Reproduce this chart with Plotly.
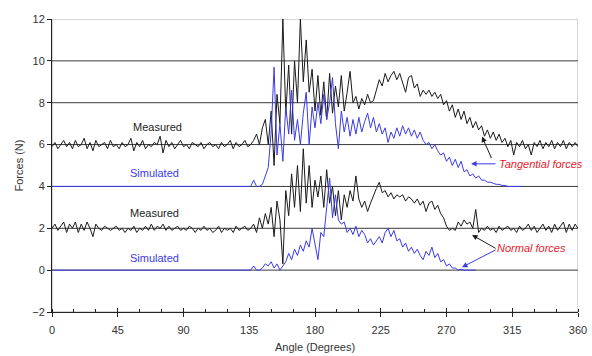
import plotly.graph_objects as go

# Angles in degrees (2-degree sampling)
angles = list(range(0, 361, 2))

measured_tangential = [
    5.9, 6.1, 5.8, 6.0, 6.2, 5.9, 6.1, 5.8, 6.2, 5.9,
    6.0, 6.3, 5.8, 6.1, 5.7, 6.2, 5.9, 6.0, 6.1, 5.8,
    6.2, 5.9, 6.0, 5.8, 6.1, 5.9, 6.0, 6.3, 5.7, 6.1,
    5.9, 6.2, 5.8, 6.0, 5.9, 6.1, 6.0, 6.4, 5.6, 6.2,
    5.9, 6.1, 5.8, 6.0, 6.2, 5.9, 6.0, 5.8, 6.1, 6.0,
    5.9, 6.1, 5.8, 6.0, 6.1, 5.9, 6.0, 5.8, 6.1, 5.9,
    6.0, 6.2, 5.8, 6.1, 5.9, 6.0, 6.2, 5.9, 6.0, 6.2,
    6.5, 6.0, 6.8, 7.2, 6.0, 7.6, 5.0, 8.4, 7.0, 12.0,
    7.5, 9.8, 6.5, 10.0, 8.0, 12.0, 9.0, 11.0, 8.5, 9.6,
    7.6, 9.3, 7.4, 9.0, 7.2, 9.4, 7.5, 8.8, 7.8, 9.3,
    7.6, 8.5, 9.5, 8.0, 8.3, 7.7, 8.2, 7.9, 8.4, 8.0,
    8.1, 8.6, 9.1, 8.8, 9.4, 9.0, 9.3, 9.5, 9.1, 9.4,
    8.9, 8.5, 9.2, 9.3, 8.7, 8.9, 8.3, 8.6, 8.4, 8.6,
    8.3, 8.5, 8.2, 8.4, 7.9, 8.1, 7.6, 7.9, 7.3, 7.7,
    7.2, 7.6, 7.0, 7.3, 6.8, 7.1, 6.7, 6.9, 6.4, 6.7,
    6.3, 6.6, 6.2, 6.5, 6.1, 6.3, 5.9, 6.2, 5.5, 6.1,
    5.9, 6.2, 5.8, 6.0, 5.5, 6.1, 5.9, 6.2, 5.8, 6.1,
    5.9, 6.2, 5.8, 6.1, 5.9, 6.2, 5.8, 6.1, 5.9, 6.1,
    5.9,
]

simulated_tangential = [
    4.0, 4.0, 4.0, 4.0, 4.0, 4.0, 4.0, 4.0, 4.0, 4.0,
    4.0, 4.0, 4.0, 4.0, 4.0, 4.0, 4.0, 4.0, 4.0, 4.0,
    4.0, 4.0, 4.0, 4.0, 4.0, 4.0, 4.0, 4.0, 4.0, 4.0,
    4.0, 4.0, 4.0, 4.0, 4.0, 4.0, 4.0, 4.0, 4.0, 4.0,
    4.0, 4.0, 4.0, 4.0, 4.0, 4.0, 4.0, 4.0, 4.0, 4.0,
    4.0, 4.0, 4.0, 4.0, 4.0, 4.0, 4.0, 4.0, 4.0, 4.0,
    4.0, 4.0, 4.0, 4.0, 4.0, 4.0, 4.0, 4.0, 4.0, 4.3,
    4.0, 4.0, 4.1, 4.5, 4.9, 6.6, 9.7, 5.5, 7.0, 5.2,
    7.8, 6.5, 8.6, 6.2, 7.2, 6.0, 7.5, 8.5, 6.0, 7.8,
    6.8, 8.0, 7.0, 8.4, 7.2, 8.0, 9.2, 7.0, 5.8, 7.6,
    6.6, 7.3, 6.4, 7.2, 6.5, 7.3, 6.6, 7.1, 7.5, 6.8,
    7.3, 6.6, 7.0, 6.5, 6.8, 6.1, 6.6, 6.3, 6.8, 6.4,
    6.9, 6.5, 6.8, 6.4, 6.7, 6.3, 6.6, 6.2, 6.0, 6.1,
    5.8, 6.0, 5.7, 5.5, 5.6, 5.2, 5.4, 5.0, 5.3, 4.9,
    5.2, 4.7, 4.8, 4.5, 4.6, 4.4, 4.5, 4.3, 4.3, 4.2,
    4.2, 4.15, 4.1, 4.1, 4.05, 4.05, 4.0, 4.0, 4.0, 4.0,
    4.0, 4.0, None, None, None, None, None, None, None, None,
    None, None, None, None, None, None, None, None, None, None,
    None,
]

measured_normal = [
    2.0, 2.2, 1.9, 2.1, 2.3, 1.8, 2.2, 2.0, 2.3, 1.8,
    2.2, 1.9, 2.3, 2.0, 1.6, 2.2, 2.0, 1.9, 2.1, 2.0,
    1.9, 2.0, 2.1, 1.9, 2.0, 1.8, 2.0, 1.9, 2.1, 1.8,
    2.0, 1.9, 2.1, 1.9, 2.2, 1.9, 2.1, 2.0, 2.2, 1.9,
    2.1, 1.9, 2.0, 2.1, 1.9, 2.0, 1.9, 2.1, 2.0, 1.8,
    2.0, 1.9, 2.1, 1.9, 2.0, 1.8, 1.9, 2.1, 1.8, 2.0,
    1.9, 2.0, 1.8, 2.1, 1.9, 2.0, 2.1, 1.9, 2.0, 2.2,
    1.8, 2.5, 2.0, 2.7, 2.2, 3.0, 1.6, 3.3, 2.4, 0.3,
    3.8, 2.6, 4.6, 3.0, 5.0, 2.8, 5.8, 3.2, 5.0, 3.0,
    4.3, 3.5, 4.5, 3.0, 4.8, 3.2, 4.0, 2.6, 3.8, 2.4,
    3.6, 3.0, 3.8, 3.3, 4.5, 3.4, 3.0, 3.3, 2.8, 3.2,
    3.6, 3.9, 4.2, 3.7, 3.8, 3.5, 3.7, 3.4, 3.6, 3.5,
    3.6, 3.3, 3.5, 3.4, 3.2, 3.4, 3.1, 3.3, 2.8, 3.2,
    3.3, 2.9, 3.1, 2.7, 2.5, 2.1, 1.9, 2.0, 1.9, 2.3,
    2.1, 2.4, 2.2, 2.3, 2.0, 2.9, 1.8, 2.0, 1.9, 2.1,
    1.9, 2.0, 1.8, 2.1, 1.9, 2.0, 2.1, 1.9, 2.0, 1.8,
    2.1, 1.9, 2.0, 2.2, 1.9, 2.1, 1.8, 2.0, 2.2, 1.9,
    2.1, 1.8, 2.2, 1.9, 2.1, 2.3, 1.8, 2.2, 1.9, 2.2,
    2.0,
]

simulated_normal = [
    0.0, 0.0, 0.0, 0.0, 0.0, 0.0, 0.0, 0.0, 0.0, 0.0,
    0.0, 0.0, 0.0, 0.0, 0.0, 0.0, 0.0, 0.0, 0.0, 0.0,
    0.0, 0.0, 0.0, 0.0, 0.0, 0.0, 0.0, 0.0, 0.0, 0.0,
    0.0, 0.0, 0.0, 0.0, 0.0, 0.0, 0.0, 0.0, 0.0, 0.0,
    0.0, 0.0, 0.0, 0.0, 0.0, 0.0, 0.0, 0.0, 0.0, 0.0,
    0.0, 0.0, 0.0, 0.0, 0.0, 0.0, 0.0, 0.0, 0.0, 0.0,
    0.0, 0.0, 0.0, 0.0, 0.0, 0.0, 0.0, 0.0, 0.0, 0.2,
    0.0, 0.0, 0.1, 0.3, 0.2, 0.4, 0.1, 0.3, 0.0, 0.2,
    0.4, 0.8, 0.5, 1.0, 0.7, 1.2, 0.9, 1.4, 1.1, 2.0,
    1.3, 0.5, 1.8, 1.6, 3.0, 4.4, 2.5, 3.6, 2.4, 2.2,
    2.3, 1.8, 2.0, 1.7, 2.1, 1.6, 1.9, 1.7, 1.3, 1.5,
    1.2, 1.4, 1.6, 1.3, 1.8, 2.0, 1.6, 1.9, 1.4, 1.5,
    1.1, 1.3, 0.9, 1.1, 0.8, 1.0, 0.7, 0.5, 0.9, 0.7,
    1.1, 0.6, 0.8, 0.4, 0.5, 0.2, 0.3, 0.1, 0.1, 0.0,
    0.05, 0.0, 0.0, 0.0, 0.0, 0.0, None, None, None, None,
    None, None, None, None, None, None, None, None, None, None,
    None, None, None, None, None, None, None, None, None, None,
    None, None, None, None, None, None, None, None, None, None,
    None,
]

for s in (measured_tangential, simulated_tangential, measured_normal, simulated_normal):
    assert len(s) == len(angles), len(s)

x_ticks = [0, 45, 90, 135, 180, 225, 270, 315, 360]
y_ticks = [-2, 0, 2, 4, 6, 8, 10, 12]
grid_levels = [0, 2, 4, 6, 8, 10]

BLACK = "#1a1a1a"
BLUE = "#3b3be6"
RED = "#e8222e"
FONT = "Liberation Sans, Arial, sans-serif"

fig = go.Figure()
fig.add_trace(go.Scatter(x=angles, y=measured_tangential, mode="lines",
                         line=dict(color=BLACK, width=1), showlegend=False))
fig.add_trace(go.Scatter(x=angles, y=measured_normal, mode="lines",
                         line=dict(color=BLACK, width=1), showlegend=False))
fig.add_trace(go.Scatter(x=angles, y=simulated_tangential, mode="lines",
                         line=dict(color=BLUE, width=1), showlegend=False))
fig.add_trace(go.Scatter(x=angles, y=simulated_normal, mode="lines",
                         line=dict(color=BLUE, width=1), showlegend=False))

shapes = [dict(type="rect", xref="x", yref="y", x0=0, x1=360, y0=-2, y1=12,
               line=dict(color="#b0b0b0", width=1), layer="below")]
for g in grid_levels:
    shapes.append(dict(type="line", xref="x", yref="y", x0=0, x1=360, y0=g, y1=g,
                       line=dict(color="#3a3a3a", width=1), layer="below"))

annotations = [
    dict(x=72, y=6.86, text="Measured", showarrow=False, font=dict(color="#222222", size=11)),
    dict(x=70, y=4.65, text="Simulated", showarrow=False, font=dict(color=BLUE, size=11)),
    dict(x=70, y=2.73, text="Measured", showarrow=False, font=dict(color="#222222", size=11)),
    dict(x=70, y=0.58, text="Simulated", showarrow=False, font=dict(color=BLUE, size=11)),
    dict(x=334.5, y=5.08, text="<i>Tangential forces</i>", showarrow=False,
         font=dict(color=RED, size=11)),
    dict(x=328.5, y=1.05, text="<i>Normal forces</i>", showarrow=False,
         font=dict(color=RED, size=11)),
]
arrows = [
    (286.8, 5.08, 304.6, 5.08, BLUE),
    (294.3, 6.38, 301.2, 5.28, BLACK),
    (287.5, 1.68, 304.6, 1.0, BLACK),
    (280.6, 0.14, 304.6, 1.0, BLUE),
]
for hx, hy, tx, ty, col in arrows:
    annotations.append(dict(x=hx, y=hy, ax=tx, ay=ty, axref="x", ayref="y", xref="x", yref="y",
                            text="", showarrow=True, arrowhead=2, arrowsize=1.1,
                            arrowwidth=1, arrowcolor=col))

fig.update_layout(
    width=592, height=356,
    margin=dict(l=52, r=14, t=19, b=44, autoexpand=False),
    paper_bgcolor="white", plot_bgcolor="white",
    font=dict(family=FONT, size=11, color="#333333"),
    shapes=shapes, annotations=annotations,
    xaxis=dict(range=[0, 360], tickvals=x_ticks, showgrid=False, zeroline=False,
               automargin=False, ticklabelstandoff=4,
               showline=True, linecolor="#222222", linewidth=1,
               ticks="outside", ticklen=4, tickcolor="#222222",
               minor=dict(dtick=15, tick0=0, ticks="inside", ticklen=3, tickcolor="#222222"),
               title=dict(text="Angle (Degrees)", standoff=8, font=dict(size=11, color="#333333"))),
    xaxis2=dict(range=[0, 360], overlaying="x", matches="x", anchor="y", side="bottom",
                automargin=False,
                tickvals=x_ticks, ticks="inside", ticklen=4, tickcolor="#222222",
                showticklabels=False, showgrid=False, zeroline=False, showline=False),
    yaxis=dict(range=[-2, 12], tickvals=y_ticks, showgrid=False, zeroline=False,
               automargin=False,
               showline=True, linecolor="#222222", linewidth=1,
               ticks="outside", ticklen=4, tickcolor="#222222",
               title=dict(text="Forces (N)", standoff=6, font=dict(size=11, color="#333333"))),
)
fig.add_trace(go.Scatter(x=[None], y=[None], xaxis="x2", showlegend=False, hoverinfo="skip"))

fig.write_html("out.html", config={"displayModeBar": False})
